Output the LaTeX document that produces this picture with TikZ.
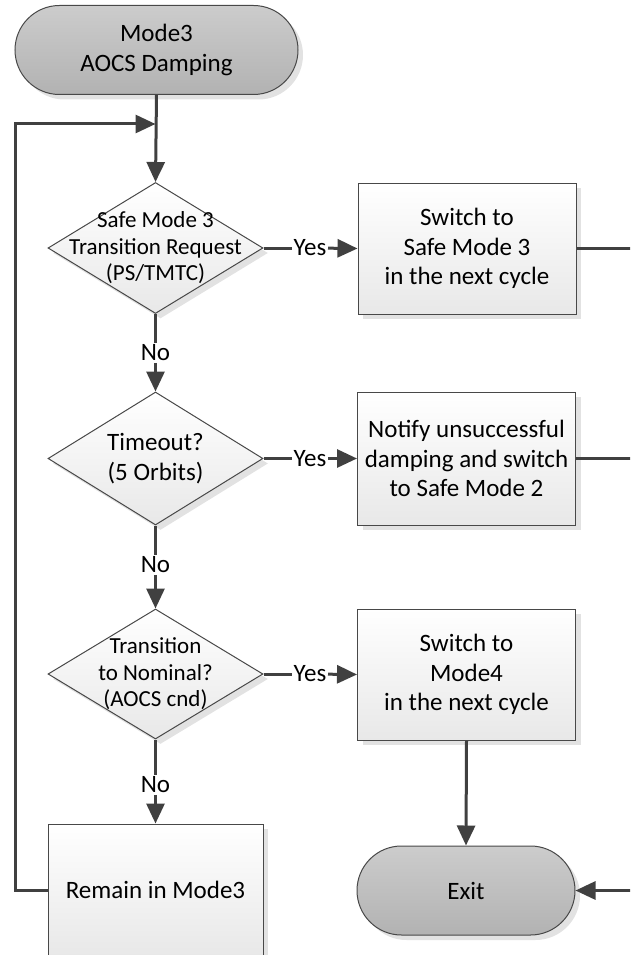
\documentclass[tikz,border=0pt]{standalone}
\usepackage{fontspec}
\setmainfont{Carlito}
\usetikzlibrary{arrows.meta,shapes.geometric,shapes.misc,shadows}

\definecolor{linegray}{RGB}{64,64,64}
\definecolor{edgegray}{RGB}{72,72,72}
\definecolor{boxlow}{RGB}{232,232,232}
\definecolor{termtop}{RGB}{204,204,204}
\definecolor{termlow}{RGB}{178,178,178}
\definecolor{shadowgray}{RGB}{226,226,226}

\newcommand\fsbig{\fontsize{25pt}{29.5pt}\selectfont}
\newcommand\fssmall{\fontsize{23pt}{26.5pt}\selectfont}

\tikzset{
  conn/.style={line width=3pt, draw=linegray},
  arr/.style={conn, -{Triangle[length=20pt,width=18pt]}, color=linegray},
  softshadow/.style={drop shadow={shadow xshift=5pt, shadow yshift=-5pt, fill=shadowgray, opacity=1}},
  procbox/.style={rectangle, draw=edgegray, line width=1pt, top color=white, bottom color=boxlow,
    minimum width=218pt, minimum height=131pt, inner sep=0pt, align=center, font=\fsbig, softshadow},
  decision/.style={diamond, draw=edgegray, line width=1pt, top color=white, bottom color=boxlow,
    minimum width=215pt, minimum height=131pt, inner sep=0pt, softshadow},
  dtext/.style={align=center, inner sep=0pt},
  terminal/.style={rounded rectangle, draw=edgegray, line width=1pt, top color=termtop, bottom color=termlow,
    minimum height=89pt, inner sep=0pt, align=center, font=\fsbig, softshadow},
  lbl/.style={font=\fsbig, inner sep=1.5pt},
}

\begin{document}
\begin{tikzpicture}[x=1pt, y=-1pt]
  \path[use as bounding box, clip] (0,0) rectangle (630,955);

  % start terminal
  \node[terminal, minimum width=283pt] (start) at (156.5,50) {Mode3\\AOCS Damping};

  % decisions
  \node[decision] (d1) at (155.5,248) {};
  \node[dtext, font=\fssmall] (d1t) at (d1) {Safe Mode 3\\Transition Request\\(PS/TMTC)};
  \node[decision, minimum height=133pt] (d2) at (155.5,458.5) {};
  \node[dtext, font=\fsbig] (d2t) at (d2) {Timeout?\\(5 Orbits)};
  \node[decision, minimum height=130pt] (d3) at (155.5,674) {};
  \node[dtext, font=\fssmall] (d3t) at (d3) {Transition\\to Nominal?\\(AOCS cnd)};

  % actions
  \node[procbox] (b1) at (467,248.5) {Switch to\\Safe Mode 3\\in the next cycle};
  \node[procbox, minimum height=133pt] (b2) at (466.5,458.5) {Notify unsuccessful\\damping and switch\\to Safe Mode 2};
  \node[procbox] (b3) at (466.5,674.5) {Switch to\\Mode4\\in the next cycle};
  \node[procbox, minimum width=215pt, minimum height=132pt] (rm) at (155.5,890) {Remain in Mode3};

  % exit terminal
  \node[terminal, minimum width=218pt] (exit) at (466,890.5) {Exit};

  % labels on the branches
  \node[lbl] (y1) at (310,248) {Yes};
  \node[lbl] (y2) at (310,458.5) {Yes};
  \node[lbl] (y3) at (310,674) {Yes};
  \node[lbl] (n1) at (155.5,353) {No};
  \node[lbl] (n2) at (155.5,565) {No};
  \node[lbl] (n3) at (155.5,785) {No};

  % helper points
  \coordinate (j) at (155.5,124);
  \coordinate (loopx) at (15,500);
  \coordinate (r1) at (631,248.5);
  \coordinate (r2) at (631,458.5);
  \coordinate (r3) at (631,890.5);

  % main flow
  \draw[arr] (start.south) -- (d1.north);
  \draw[arr] (rm.west) -| (loopx) |- (j);

  \draw[conn] (d1.south) -- (n1);
  \draw[arr] (n1) -- (d2.north);
  \draw[conn] (d2.south) -- (n2);
  \draw[arr] (n2) -- (d3.north);
  \draw[conn] (d3.south) -- (n3);
  \draw[arr] (n3) -- (rm.north);

  \draw[conn] (d1.east) -- (y1);
  \draw[arr] (y1) -- (b1.west);
  \draw[conn] (d2.east) -- (y2);
  \draw[arr] (y2) -- (b2.west);
  \draw[conn] (d3.east) -- (y3);
  \draw[arr] (y3) -- (b3.west);

  \draw[conn] (b1.east) -- (r1);
  \draw[conn] (b2.east) -- (r2);
  \draw[arr] (b3.south) -- (exit.north);
  \draw[arr] (r3) -- (exit.east);
\end{tikzpicture}
\end{document}
